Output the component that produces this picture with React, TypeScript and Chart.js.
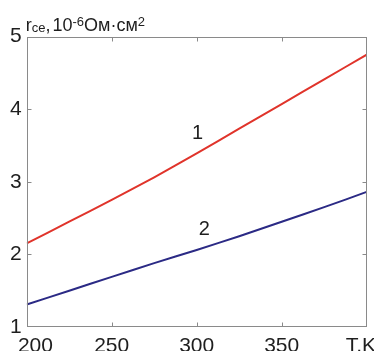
import React, { useEffect, useRef } from "react";
import { Chart, registerables } from "chart.js";

Chart.register(...registerables);

// Temperature, K
const temperatures = [200, 225, 250, 275, 300, 325, 350, 375, 400];
// r_ce, 10^-6 Ohm·cm^2
const curve1 = [2.15, 2.45, 2.75, 3.06, 3.39, 3.73, 4.07, 4.41, 4.75];
const curve2 = [1.31, 1.5, 1.69, 1.88, 2.06, 2.25, 2.45, 2.65, 2.86];
const xTickValues = [200, 250, 300, 350, 400];
const xTickLabels = ["200", "250", "300", "350", "T,K"];
const yTickValues = [1, 2, 3, 4, 5];
const curveNames = ["1", "2"];
const curveNameAt = [
  { x: 300.5, y: 3.67 },
  { x: 304.5, y: 2.34 },
];

const FONT = "'Liberation Sans', Arial, sans-serif";
const TEXT = "#1e1e1e";

const framePlugin = {
  id: "frameTicks",
  afterDraw(chart: any) {
    const { ctx, chartArea: a, scales } = chart;
    const xs = scales.x;
    const ys = scales.y;
    ctx.save();
    ctx.strokeStyle = "#8a8a8a";
    ctx.lineWidth = 1;
    const L = Math.round(a.left) + 0.5;
    const R = Math.round(a.right) - 0.5;
    const T = Math.round(a.top) + 0.5;
    const B = Math.round(a.bottom) - 0.5;
    ctx.strokeRect(L, T, R - L, B - T);
    const tl = 4;
    ctx.beginPath();
    xTickValues.slice(1, -1).forEach((v) => {
      const px = Math.round(xs.getPixelForValue(v)) + 0.5;
      ctx.moveTo(px, B);
      ctx.lineTo(px, B - tl);
      ctx.moveTo(px, T);
      ctx.lineTo(px, T + tl);
    });
    yTickValues.slice(1, -1).forEach((v) => {
      const py = Math.round(ys.getPixelForValue(v)) + 0.5;
      ctx.moveTo(L, py);
      ctx.lineTo(L + tl, py);
      ctx.moveTo(R, py);
      ctx.lineTo(R - tl, py);
    });
    ctx.stroke();

    // curve numbers
    ctx.fillStyle = TEXT;
    ctx.font = `20px ${FONT}`;
    ctx.textAlign = "center";
    ctx.textBaseline = "middle";
    curveNames.forEach((n, i) => {
      ctx.fillText(n, xs.getPixelForValue(curveNameAt[i].x), ys.getPixelForValue(curveNameAt[i].y));
    });

    // axis title with sub/superscripts
    ctx.textAlign = "left";
    ctx.textBaseline = "alphabetic";
    const parts: [string, number, number][] = [
      ["r", 18, 31],
      ["ce", 13, 32],
      [",", 18, 31],
      ["10", 18, 31],
      ["-6", 13, 26],
      ["Ом·см", 18, 31],
      ["2", 13, 26],
    ];
    let x = a.left - 1;
    parts.forEach(([t, size, base]) => {
      ctx.font = `${size}px ${FONT}`;
      ctx.fillText(t, x, base);
      x += ctx.measureText(t).width;
      if (t === ",") x += 2;
    });
    ctx.restore();
  },
};

export default function App() {
  const ref = useRef<HTMLCanvasElement>(null);
  useEffect(() => {
    document.body.style.margin = "0";
    const chart = new Chart(ref.current!, {
      type: "line",
      data: {
        datasets: [
          {
            label: curveNames[0],
            data: temperatures.map((t, i) => ({ x: t, y: curve1[i] })),
            borderColor: "#e0342b",
            borderWidth: 2,
            pointRadius: 0,
            tension: 0.2,
            fill: false,
          },
          {
            label: curveNames[1],
            data: temperatures.map((t, i) => ({ x: t, y: curve2[i] })),
            borderColor: "#2b2a85",
            borderWidth: 2,
            pointRadius: 0,
            tension: 0.2,
            fill: false,
          },
        ],
      },
      options: {
        animation: false,
        responsive: false,
        layout: { padding: { top: 36.5, right: 7.3, left: 0, bottom: 0 } },
        plugins: { legend: { display: false }, tooltip: { enabled: false } },
        scales: {
          x: {
            type: "linear",
            min: 200,
            max: 400,
            grid: { display: false, drawTicks: false },
            border: { display: false },
            afterBuildTicks: (s: any) => {
              s.ticks = xTickValues.map((v) => ({ value: v }));
            },
            afterFit: (s: any) => {
              s.paddingLeft = 0;
              s.paddingRight = 0;
              s.height = 24;
            },
            ticks: {
              autoSkip: false,
              maxRotation: 0,
              padding: 7,
              color: TEXT,
              font: { family: FONT, size: 21 },
              callback: (v: any) => {
                const i = xTickValues.indexOf(Number(v));
                if (i === 0) return "   " + xTickLabels[i];
                if (i === xTickLabels.length - 1) return xTickLabels[i] + "  ";
                return i >= 0 ? xTickLabels[i] : "";
              },
            },
          },
          y: {
            min: 1,
            max: 5,
            grid: { display: false, drawTicks: false },
            border: { display: false },
            afterBuildTicks: (s: any) => {
              s.ticks = yTickValues.map((v) => ({ value: v }));
            },
            afterFit: (s: any) => {
              s.paddingTop = 0;
              s.paddingBottom = 0;
              s.width = 26.7;
            },
            ticks: {
              padding: 5,
              color: TEXT,
              font: { family: FONT, size: 21 },
              callback: (v: any) => String(v),
            },
          },
        },
      },
      plugins: [framePlugin],
    });
    return () => chart.destroy();
  }, []);
  return <canvas ref={ref} width={374} height={351} style={{ display: "block", width: 374, height: 351 }} />;
}
